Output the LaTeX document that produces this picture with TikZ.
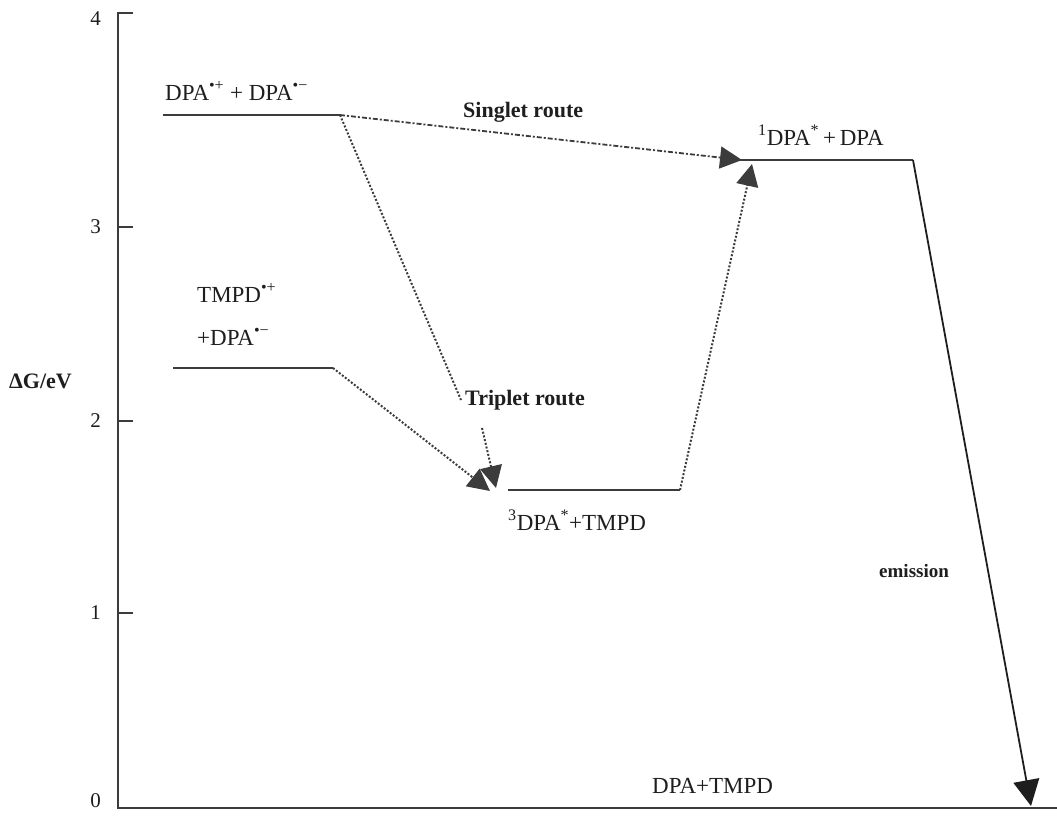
\documentclass[tikz,border=0pt]{standalone}
\usepackage{fontspec}
\setmainfont{Liberation Serif}
\usetikzlibrary{arrows.meta}
\definecolor{lvl}{HTML}{3C3C3C}
\definecolor{ink}{HTML}{1E1E1E}
\tikzset{
  level/.style={draw=lvl, line width=2pt},
  lab/.style={anchor=base west, inner sep=0pt, text=ink, font=\fontsize{23}{27}\selectfont},
  routelab/.style={anchor=base west, inner sep=0pt, text=ink, font=\fontsize{22}{26}\selectfont\bfseries},
  ticklab/.style={anchor=base east, inner sep=0pt, text=ink, font=\fontsize{21}{25}\selectfont},
  axisline/.style={draw=lvl, line width=1.8pt},
  bigtip/.style={-{Triangle[length=22pt,width=22pt]}},
  dotline/.style={draw=lvl, line width=2pt, dash pattern=on 2pt off 1.8pt},
  dashdotline/.style={draw=lvl, line width=1.8pt, dash pattern=on 5pt off 2pt on 2pt off 2pt},
}
\begin{document}
\begin{tikzpicture}[x=1pt,y=-1pt]
\useasboundingbox (0,0) rectangle (1057,815);

% axes
\coordinate (ytop) at (118,12);
\coordinate (orig) at (118,808);
\coordinate (xend) at (1057,808);
\draw[axisline] (ytop) -- (orig) -- (xend);
\foreach \v/\y/\b in {4/13/25, 3/227/233, 2/421/427, 1/613/619, 0/808/807}{
  \draw[axisline] (118,\y) -- (133,\y);
  \node[ticklab] (t\v) at (101,\b) {\v};
}
\node[anchor=base west, inner sep=0pt, text=ink, font=\fontsize{22}{26}\selectfont\bfseries] (ylab) at (9,388) {ΔG/eV};

% energy levels
\coordinate (aW) at (163,115);  \coordinate (aE) at (340,115);
\coordinate (bW) at (723,160);  \coordinate (bE) at (913,160);
\coordinate (cW) at (173,368);  \coordinate (cE) at (333,368);
\coordinate (dW) at (508,490);  \coordinate (dE) at (680,490);
\draw[level] (aW) -- (aE);
\draw[level] (bW) -- (bE);
\draw[level] (cW) -- (cE);
\draw[level] (dW) -- (dE);

\node[lab] (la) at (165,100) {DPA\textsuperscript{•+} + DPA\textsuperscript{•−}};
\node[lab] (lb) at (758,145) {\textsuperscript{1}DPA\textsuperscript{*}\,+\,DPA};
\node[lab] (lc1) at (197,302) {TMPD\textsuperscript{•+}};
\node[lab] (lc2) at (197,345) {+DPA\textsuperscript{•−}};
\node[lab] (ld) at (508,530) {\textsuperscript{3}DPA\textsuperscript{*}+TMPD};
\node[lab] (le) at (652,793) {DPA+TMPD};

% route labels
\node[routelab] (sing) at (463,117) {Singlet route};
\node[routelab] (trip) at (465,405) {Triplet route};
\node[routelab, font=\fontsize{19}{23}\selectfont\bfseries] (emis) at (879,577) {emission};

% pathways
\coordinate (sTip) at (742,160);
\coordinate (tA) at (461,400);
\coordinate (tB) at (482,428);
\coordinate (tTip) at (496,488);
\coordinate (cTip) at (490,491);
\coordinate (uTip) at (752,164);
\coordinate (eTip) at (1031,806);

\draw[dashdotline, bigtip] (aE) -- (sTip);
\draw[dotline] (aE) -- (tA);
\draw[dotline, bigtip] (tB) -- (tTip);
\draw[dotline, bigtip] (cE) -- (cTip);
\draw[dotline, bigtip] (dE) -- (uTip);
\draw[draw=ink, line width=1.8pt, -{Triangle[length=26pt,width=26pt]}] (bE) -- (eTip);
\end{tikzpicture}
\end{document}
